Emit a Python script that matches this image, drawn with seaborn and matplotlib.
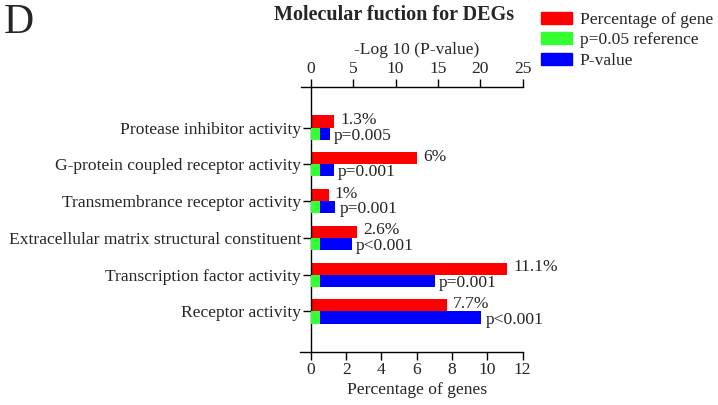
import matplotlib
matplotlib.use("Agg")
import matplotlib.pyplot as plt
import seaborn as sns
import numpy as np
from matplotlib.patches import Patch

sns.set_style("ticks")
plt.rcParams["font.family"] = ["Liberation Serif", "DejaVu Serif"]

# data
categories = ["Protease inhibitor activity", "G-protein coupled receptor activity",
              "Transmembrance receptor activity", "Extracellular matrix structural constituent",
              "Transcription factor activity", "Receptor activity"]
pct_genes = [1.3, 6.0, 1.0, 2.6, 11.1, 7.7]
pct_labels = ["1.3%", "6%", "1%", "2.6%", "11.1%", "7.7%"]
neg_log_p = [2.25, 2.7, 2.9, 4.8, 14.6, 20.1]
p_labels = ["p=0.005", "p=0.001", "p=0.001", "p<0.001", "p=0.001", "p<0.001"]
ref_line = [1.05] * 6

RED, GREEN, BLUE = "#ff0000", "#33ff33", "#0000ff"
FS = 12.6

fig = plt.figure(figsize=(7.18, 4.05), dpi=100)
ax = fig.add_axes([0.433, 0.131, 0.295, 0.654])
ax2 = ax.twiny()

y = np.arange(len(categories))
h = 0.33

ax.barh(y - h / 2, pct_genes, height=h, color=RED, linewidth=0)
ax2.barh(y + h / 2, neg_log_p, height=h, color=BLUE, linewidth=0)
ax2.barh(y + h / 2, ref_line, height=h, color=GREEN, linewidth=0)

for i in range(len(categories)):
    ax.annotate(pct_labels[i], (pct_genes[i], y[i] - h / 2), xytext=(4.5, 1),
                textcoords="offset points", va="center", ha="left", fontsize=FS)
    ax2.annotate(p_labels[i], (neg_log_p[i], y[i] + h / 2), xytext=(3, -1.5),
                 textcoords="offset points", va="center", ha="left", fontsize=FS)

ax.set_yticks(y)
ax.set_yticklabels(categories, fontsize=FS)
ax.set_ylim(len(categories) - 1 + 1.1, -1.1)
ax.set_xlim(0, 12)
ax.set_xticks(range(0, 13, 2))
ax2.set_xlim(0, 25)
ax2.set_xticks(range(0, 26, 5))

ax.set_xlabel("Percentage of genes", fontsize=FS, labelpad=3)
ax2.set_xlabel("-Log 10 (P-value)", fontsize=FS, labelpad=5)

for a in (ax, ax2):
    a.tick_params(axis="both", labelsize=FS, length=6, width=1, color="black", pad=1)
    for s in a.spines.values():
        s.set_color("black")
        s.set_linewidth(1)
    a.spines["right"].set_visible(False)
ax.spines["top"].set_visible(False)
ax2.spines["bottom"].set_visible(False)
ax2.spines["left"].set_visible(False)
ax.spines["bottom"].set_bounds(-0.6, 12)
ax2.spines["top"].set_bounds(-1.2, 25)
ax.tick_params(axis="y", length=6)

fig.text(0.549, 0.962, "Molecular fuction for DEGs", ha="center", va="center",
         fontsize=14.5, fontweight="bold")
fig.text(0.005, 0.945, "D", ha="left", va="center", fontsize=30)

handles = [Patch(color=RED, label="Percentage of gene"),
           Patch(color=GREEN, label="p=0.05 reference"),
           Patch(color=BLUE, label="P-value")]
fig.legend(handles=handles, loc="upper left", bbox_to_anchor=(0.748, 0.98), frameon=False,
           fontsize=FS, handlelength=1.8, handleheight=0.7, labelspacing=0.25,
           handletextpad=0.45, borderaxespad=0.0, borderpad=0.2)

fig.savefig("out.png", dpi=100)
